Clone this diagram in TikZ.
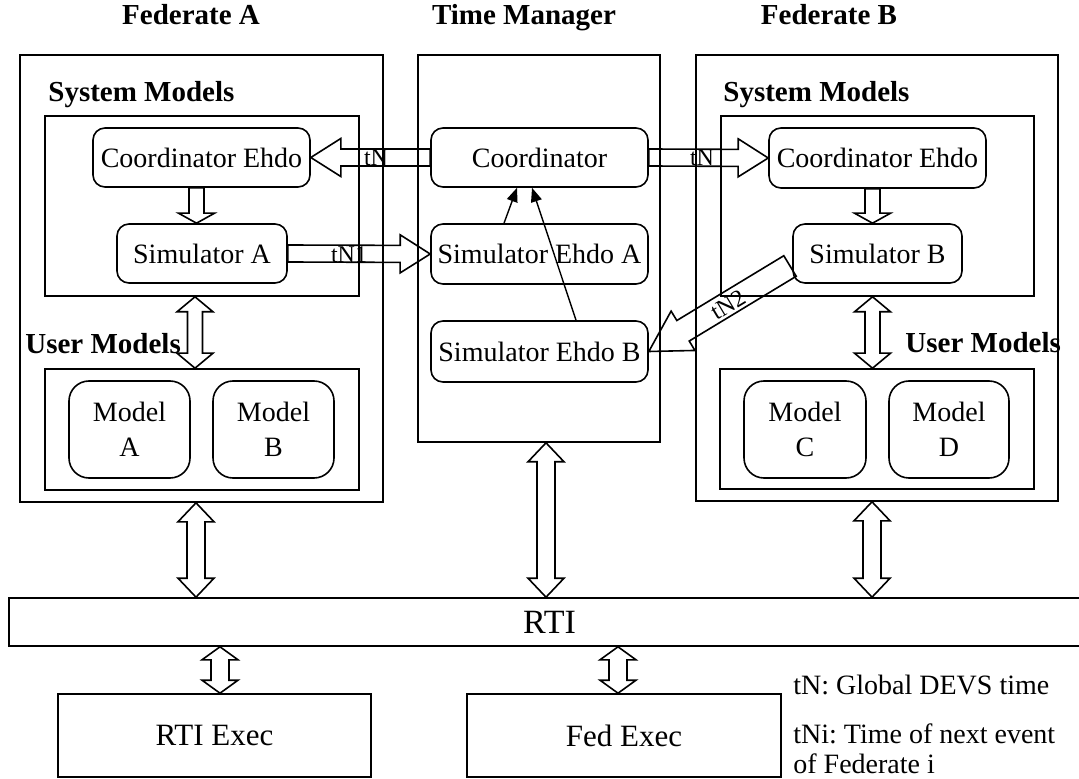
\documentclass[tikz,border=0pt]{standalone}
\usepackage{fontspec}
\setmainfont{Liberation Serif}
\usetikzlibrary{calc,arrows.meta}
\frenchspacing

% hollow block arrow with one head: from #1 to #2,
% #3 half shaft width, #4 half head width, #5 head length
\newcommand\blkarrow[5]{%
  \coordinate (ba-m) at ($(#2)!#5!(#1)$);
  \draw[blockline] ($(#1)!#3!90:(#2)$) -- ($(ba-m)!#3!90:(#2)$)
    -- ($(ba-m)!#4!90:(#2)$) -- (#2) -- ($(ba-m)!#4!-90:(#2)$)
    -- ($(ba-m)!#3!-90:(#2)$) -- ($(#1)!#3!-90:(#2)$) -- cycle;
}
% hollow block arrow with a head at both ends
\newcommand\dblkarrow[5]{%
  \coordinate (da-m1) at ($(#1)!#5!(#2)$);
  \coordinate (da-m2) at ($(#2)!#5!(#1)$);
  \draw[blockline] (#1) -- ($(da-m1)!#4!90:(#2)$) -- ($(da-m1)!#3!90:(#2)$)
    -- ($(da-m2)!#3!90:(#2)$) -- ($(da-m2)!#4!90:(#2)$) -- (#2)
    -- ($(da-m2)!#4!-90:(#2)$) -- ($(da-m2)!#3!-90:(#2)$)
    -- ($(da-m1)!#3!-90:(#2)$) -- ($(da-m1)!#4!-90:(#2)$) -- cycle;
}

\begin{document}
\begin{tikzpicture}[x=0.5pt,y=-0.5pt,
  blockline/.style={draw, line width=0.8pt, line join=miter},
  frame/.style={draw, line width=0.8pt, inner sep=0pt},
  rbox/.style={draw, line width=0.8pt, rounded corners=6pt, inner sep=0pt,
    minimum width=108.5pt, minimum height=29.5pt,
    font=\fontsize{14}{16}\selectfont},
  mbox/.style={draw, line width=0.8pt, rounded corners=10pt, inner sep=0pt,
    minimum width=60.5pt, minimum height=48.5pt, align=center,
    font=\fontsize{14}{17.5}\selectfont},
  heading/.style={font=\fontsize{14.5}{17}\selectfont\bfseries, inner sep=0pt},
  lbl/.style={font=\fontsize{12}{14}\selectfont, inner sep=0pt},
  legend/.style={font=\fontsize{14}{16}\selectfont, inner sep=0pt, anchor=base west},
  exec/.style={frame, font=\fontsize{15.5}{18}\selectfont},
  thinarrow/.style={line width=0.7pt, -{Triangle[length=7pt,width=5.5pt]}}]

\path[use as bounding box] (0,0) rectangle (1079,779);
\clip (0,0) rectangle (1079,779);

% column titles
\node[heading, anchor=base] (tA) at (191,25) {Federate A};
\node[heading, anchor=base] (tT) at (524,25) {Time Manager};
\node[heading, anchor=base] (tB) at (829,25) {Federate B};

% outer boxes
\node[frame, minimum width=181.5pt, minimum height=223.5pt] (fedA) at (201.5,278.5) {};
\node[frame, minimum width=121pt, minimum height=193.5pt] (tm) at (539,248.5) {};
\node[frame, minimum width=181pt, minimum height=223pt] (fedB) at (877,278) {};

% system and user model groups
\node[frame, minimum width=157pt, minimum height=90pt] (sysA) at (202,206) {};
\node[frame, minimum width=156.5pt, minimum height=90pt] (sysB) at (877.5,206) {};
\node[frame, minimum width=157pt, minimum height=60.5pt] (userA) at (202,429.5) {};
\node[frame, minimum width=157pt, minimum height=60pt] (userB) at (877,429) {};

\node[heading, anchor=base west] (sysAt) at (48,102) {System Models};
\node[heading, anchor=base west] (sysBt) at (723,102) {System Models};
\node[heading, anchor=base west] (userAt) at (25,354) {User Models};
\node[heading, anchor=base west] (userBt) at (905,353) {User Models};

% federate A
\node[rbox] (coordEA) at (201.5,157.5) {Coordinator Ehdo};
\node[rbox, minimum width=85pt] (simA) at (202,253.5) {Simulator A};
\node[mbox] (modA) at (129.5,429.5) {Model\\A};
\node[mbox] (modB) at (273.5,429.5) {Model\\B};

% time manager
\node[rbox] (coordTM) at (539.5,157.5) {Coordinator};
\node[rbox, minimum height=30pt] (simEA) at (539.5,254) {Simulator Ehdo A};
\node[rbox, minimum height=30.5pt] (simEB) at (539.5,351.5) {Simulator Ehdo B};

% federate B
\node[rbox, minimum height=30pt] (coordEB) at (877.5,158) {Coordinator Ehdo};
\node[rbox, minimum width=84.5pt] (simB) at (877.5,253.5) {Simulator B};
\node[mbox, minimum width=61pt] (modC) at (805,429.5) {Model\\C};
\node[mbox, minimum width=60pt] (modD) at (949,429.5) {Model\\D};

% runtime infrastructure
\node[frame, minimum width=540.5pt, minimum height=24pt, font=\fontsize{17}{20}\selectfont] (rti) at (549.5,622) {RTI};
\node[exec, minimum width=156.5pt, minimum height=41.5pt] (rtiExec) at (214.5,735.5) {RTI Exec};
\node[exec, minimum width=157pt, minimum height=41.5pt] (fedExec) at (624,735.5) {Fed Exec};

% legend
\node[legend] (lg1) at (793,694) {tN: Global DEVS time};
\node[legend] (lg2) at (793,743) {tNi: Time of next event};
\node[legend] (lg3) at (793,773) {of Federate i};

% time messages between coordinators and simulators
\blkarrow{coordTM.west}{coordEA.east}{4.25pt}{9.5pt}{15pt}
\blkarrow{simA.east}{simEA.west}{4.25pt}{9.5pt}{15pt}
\blkarrow{coordTM.east}{coordEB.west}{4.25pt}{9.5pt}{15pt}
\coordinate (tn2tail) at (790,266);
\blkarrow{tn2tail}{simEB.east}{6pt}{11.5pt}{20pt}

\node[lbl] (lbTNa) at (376,158) {tN};
\node[lbl] (lbTN1) at (349,255) {tN1};
\node[lbl] (lbTNb) at (702,158) {tN};
\node[lbl, rotate=31] (lbTN2) at (728,305) {tN2};

% coordinator to simulator inside each federate
\coordinate (cA1) at ([xshift=-2.5pt]coordEA.south);
\coordinate (cA2) at (cA1 |- simA.north);
\blkarrow{cA1}{cA2}{3.75pt}{9pt}{5pt}
\coordinate (cB1) at ([xshift=-2.5pt]coordEB.south);
\coordinate (cB2) at (cB1 |- simB.north);
\blkarrow{cB1}{cB2}{3.75pt}{9pt}{5pt}

% system models <-> user models
\coordinate (uA1) at ([xshift=-3.5pt]sysA.south);
\coordinate (uA2) at (uA1 |- userA.north);
\dblkarrow{uA1}{uA2}{3.75pt}{9pt}{7.5pt}
\coordinate (uB1) at ([xshift=-2.5pt]sysB.south);
\coordinate (uB2) at (uB1 |- userB.north);
\dblkarrow{uB1}{uB2}{3.75pt}{9pt}{7.5pt}

% simulator ehdo to coordinator
\draw[thinarrow] ([xshift=-17.75pt]simEA.north) -- ([xshift=-11.25pt]coordTM.south);
\draw[thinarrow] ([xshift=18.25pt]simEB.north) -- ([xshift=-3.75pt]coordTM.south);

% federates and time manager <-> RTI
\coordinate (rA1) at ([xshift=-2.75pt]fedA.south);
\coordinate (rA2) at (rA1 |- rti.north);
\dblkarrow{rA1}{rA2}{4.5pt}{9pt}{9.5pt}
\coordinate (rT1) at ([xshift=3.5pt]tm.south);
\coordinate (rT2) at (rT1 |- rti.north);
\dblkarrow{rT1}{rT2}{4.5pt}{9pt}{9.5pt}
\coordinate (rB1) at ([xshift=-2.5pt]fedB.south);
\coordinate (rB2) at (rB1 |- rti.north);
\dblkarrow{rB1}{rB2}{4.5pt}{9pt}{9.5pt}

% RTI <-> executives
\coordinate (eA1) at ([xshift=2.75pt]rtiExec.north);
\coordinate (eA2) at (eA1 |- rti.south);
\dblkarrow{eA2}{eA1}{4.5pt}{9pt}{6.5pt}
\coordinate (eF1) at ([xshift=-3pt]fedExec.north);
\coordinate (eF2) at (eF1 |- rti.south);
\dblkarrow{eF2}{eF1}{4.5pt}{9pt}{6.5pt}

\end{tikzpicture}
\end{document}
